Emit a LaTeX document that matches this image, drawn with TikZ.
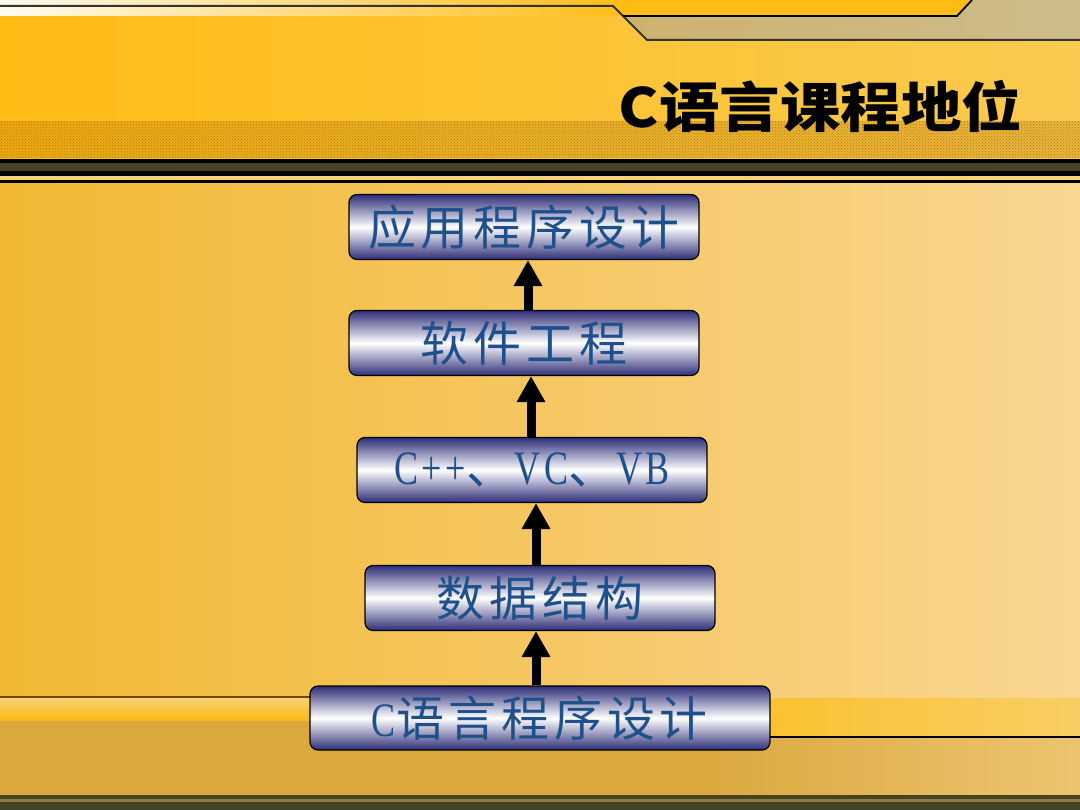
\documentclass[tikz,border=0pt]{standalone}
\usepackage{fontspec}
\setmainfont{Liberation Serif}
\newfontfamily\latin[FakeStretch=0.75, LetterSpace=8]{Liberation Serif}
\newfontfamily\cjk[LetterSpace=10]{Noto Sans CJK SC}
\newfontfamily\cjktitle{Noto Sans CJK SC}
\usetikzlibrary{arrows.meta,patterns}

\definecolor{bgleft}{RGB}{242,184,50}
\definecolor{bgright}{RGB}{249,214,146}
\definecolor{topleft}{RGB}{255,188,20}
\definecolor{topright}{RGB}{250,202,80}
\definecolor{cream}{RGB}{255,250,236}
\definecolor{khakileft}{RGB}{205,178,110}
\definecolor{khakiright}{RGB}{205,188,140}
\definecolor{dotcolor}{RGB}{180,120,10}
\definecolor{olive}{RGB}{70,66,36}
\definecolor{stripe}{RGB}{248,210,120}
\definecolor{bandleft}{RGB}{253,186,20}
\definecolor{bandright}{RGB}{248,206,100}
\definecolor{lowleft}{RGB}{218,168,62}
\definecolor{lowright}{RGB}{236,196,112}
\definecolor{brownline}{RGB}{110,70,10}
\definecolor{boxnavy}{RGB}{46,46,120}
\definecolor{boxtext}{RGB}{30,80,140}

\newcommand{\zh}[1]{{\cjk #1}}

\begin{document}
\begin{tikzpicture}[x=1pt, y=-1pt]
    \tikzstyle{box_style} = [draw=black, line width=1.2pt, rounded corners=8pt, minimum width=350pt, minimum height=65pt, inner sep=0pt, top color=boxnavy, bottom color=boxnavy, middle color=white, text=boxtext, font=\latin\fontsize{48}{52}\selectfont]
    \tikzstyle{arrow_style} = [draw=black, line width=9pt, -{Triangle[width=27pt, length=26pt]}]
    \useasboundingbox (0,0) rectangle (1080,810);

    % background
    \fill[left color=bgleft, right color=bgright] (0,0) rectangle (1080,810);
    \fill[left color=topleft, right color=topright] (0,16) rectangle (1080,160);
    \fill[left color=cream, right color=topleft] (0,0) rectangle (640,16);
    \fill[topleft] (613,0) -- (972,0) -- (957,16) -- (623,16) -- cycle;
    \fill[left color=khakileft, right color=khakiright] (623,16) -- (957,16) -- (972,0) -- (1080,0) -- (1080,40) -- (647,40) -- cycle;
    \draw[line width=2pt, black!80] (0,6) -- (613,6) -- (647,40) -- (1080,40);
    \draw[line width=1.8pt] (623,16) -- (957,16) -- (972,0);
    \fill[dotcolor, opacity=0.25] (0,121) rectangle (1080,158);
    \fill[pattern=crosshatch dots, pattern color=dotcolor] (0,121) rectangle (1080,158);
    \fill[black] (0,159) rectangle (1080,176);
    \fill[olive] (0,163) rectangle (1080,171);
    \fill[stripe] (0,176) rectangle (1080,180);
    \fill[black] (0,180) rectangle (1080,183);

    \fill[lowleft] (0,720) rectangle (1080,795);
    \fill[left color=lowleft, right color=lowright] (700,737) rectangle (1080,795);
    \fill[top color=stripe, bottom color=bandleft] (0,697) rectangle (340,720);
    \draw[line width=1.5pt, brownline] (0,697) -- (340,697);
    \fill[left color=bandleft!70!bandright, right color=bandright] (740,698) rectangle (1080,737);
    \draw[line width=1.5pt, black] (740,737) -- (1080,737);
    \fill[olive] (0,795) rectangle (1080,810);
    \fill[olive!60!stripe] (0,799) rectangle (1080,802);

    % title
    \node[anchor=base east, font=\cjktitle\bfseries\fontsize{54}{58}\selectfont, xscale=1.12] (title) at (1026,128) {C语言课程地位};

    % course boxes
    \node[box_style] (app) at (524,227) {\zh{应用程序设计}};
    \node[box_style] (soft) at (524,343) {\zh{软件工程}};
    \node[box_style] (cpp) at (532,470) {C++\zh{、}VC\zh{、}VB};
    \node[box_style] (dat) at (540,598) {\zh{数据结构}};
    \node[box_style, minimum width=460pt, minimum height=64pt] (clang) at (540,718) {C\zh{语言程序设计}};

    \coordinate (a1) at ([xshift=-4pt]clang.north);
    \coordinate (a2) at ([xshift=-4pt]dat.north);
    \coordinate (a3) at ([xshift=-1pt]cpp.north);
    \coordinate (a4) at ([xshift=4pt]soft.north);
    \draw[arrow_style] (a1) -- (a1 |- dat.south);
    \draw[arrow_style] (a2) -- (a2 |- cpp.south);
    \draw[arrow_style] (a3) -- (a3 |- soft.south);
    \draw[arrow_style] (a4) -- (a4 |- app.south);
\end{tikzpicture}
\end{document}
